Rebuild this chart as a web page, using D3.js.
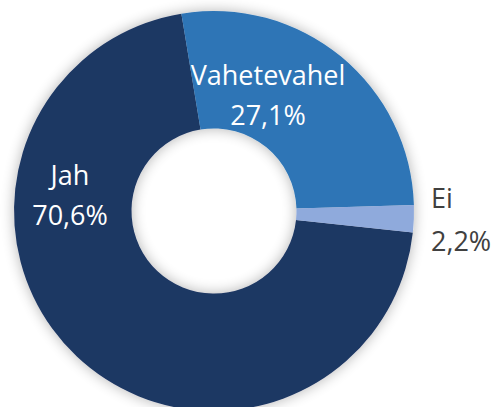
<!DOCTYPE html>
<html>
<head>
<meta charset="utf-8">
<script src="https://cdn.jsdelivr.net/npm/d3@7"></script>
<style>
  body { margin: 0; background: #fff; }
  svg { display: block; }
</style>
</head>
<body>
<div id="chart"></div>
<script>
// data
const categories = ["Jah", "Vahetevahel", "Ei"];
const values = [70.6, 27.1, 2.2];
const colors = ["#1F3763", "#2E75B6", "#8FAADC"];
const labelColors = ["#ffffff", "#ffffff", "#404040"];

const width = 498, height = 407;
const cx = 214, cy = 211;
const outerR = 200, innerR = 82.5;
// first slice (Jah) starts just after the "Ei" wedge, measured clockwise from 12 o'clock
const startDeg = 96.2;

// label placement (x, y of first line baseline relative to centre, anchor)
const labelPos = [
  { dx: -144, dy: -26, anchor: "middle" },
  { dx: 54, dy: -126, anchor: "middle" },
  { dx: 217, dy: -3, anchor: "start" }
];

const svg = d3.select("#chart")
  .append("svg")
  .attr("width", width)
  .attr("height", height);

// soft glow around the ring
const defs = svg.append("defs");
const f = defs.append("filter")
  .attr("id", "glow")
  .attr("x", "-20%").attr("y", "-20%")
  .attr("width", "140%").attr("height", "140%");
f.append("feGaussianBlur").attr("in", "SourceAlpha").attr("stdDeviation", 7).attr("result", "b");
f.append("feComponentTransfer").attr("in", "b").attr("result", "s")
  .append("feFuncA").attr("type", "linear").attr("slope", 0.3);
const m = f.append("feMerge");
m.append("feMergeNode").attr("in", "s");
m.append("feMergeNode").attr("in", "SourceGraphic");

const g = svg.append("g")
  .attr("transform", `translate(${cx},${cy})`);

const data = categories.map((c, i) => ({ name: c, value: values[i] }));

const pie = d3.pie()
  .sort(null)
  .value(d => d.value)
  .startAngle(startDeg * Math.PI / 180)
  .endAngle((startDeg + 360) * Math.PI / 180);

const arc = d3.arc().innerRadius(innerR).outerRadius(outerR);

g.append("g")
  .attr("filter", "url(#glow)")
  .selectAll("path")
  .data(pie(data))
  .join("path")
  .attr("d", arc)
  .attr("fill", (d, i) => colors[i]);

// labels
const fmt = v => v.toFixed(1).replace(".", ",") + "%";
const lab = g.append("g")
  .selectAll("text")
  .data(data)
  .join("text")
  .attr("transform", (d, i) => `translate(${labelPos[i].dx},${labelPos[i].dy})`)
  .attr("text-anchor", (d, i) => labelPos[i].anchor)
  .attr("fill", (d, i) => labelColors[i])
  .style("font-family", "'Open Sans', sans-serif")
  .style("font-size", "27px");
lab.append("tspan").attr("x", 0).attr("y", 0).text(d => d.name);
lab.append("tspan").attr("x", 0).attr("y", (d, i) => i == 2 ? 43 : 40).text(d => fmt(d.value));
</script>
</body>
</html>
